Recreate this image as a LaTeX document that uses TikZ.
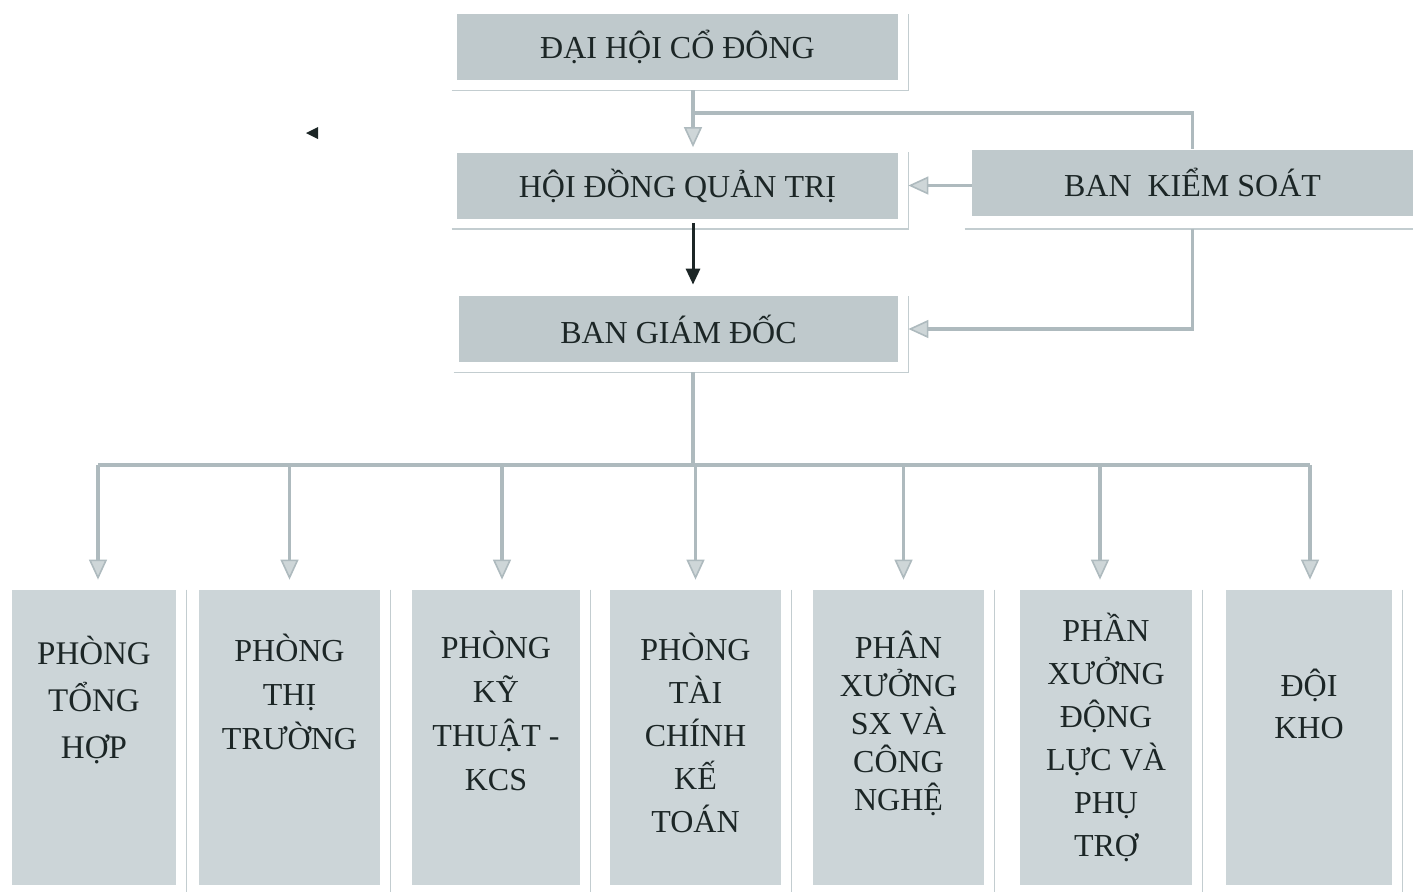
\documentclass[tikz,border=0pt]{standalone}
\usepackage{fontspec}
\setmainfont{Liberation Serif}
\usetikzlibrary{arrows.meta}
\definecolor{topfill}{HTML}{BFC9CC}
\definecolor{depfill}{HTML}{CCD5D8}
\definecolor{linegrey}{HTML}{AEBABE}
\definecolor{shadowgrey}{HTML}{C3CDD0}
\definecolor{inkdark}{HTML}{1C2626}
\tikzset{
  topbox/.style={fill=topfill, minimum width=220.5pt, minimum height=33pt, inner sep=0pt,
    text=inkdark, font=\fontsize{16}{19}\selectfont},
  depbox/.style={fill=depfill, minimum height=147.5pt, inner sep=0pt},
  deptext/.style={anchor=base, align=center, inner sep=0pt, text=inkdark,
    font=\fontsize{16}{22}\selectfont},
  conn/.style={draw=linegrey, line width=1.8pt},
  greytip/.style={-{Triangle[width=9pt,length=10pt,fill=linegrey!60,color=linegrey,line width=0.8pt]}},
  blackarrow/.style={draw=inkdark, line width=1.5pt, -{Triangle[width=7pt,length=8pt]}},
  shadowline/.style={draw=shadowgrey, line width=0.8pt}
}
\begin{document}
\begin{tikzpicture}[x=0.5pt,y=-0.5pt]
\useasboundingbox (0,0) rectangle (1413,891);

% upper boxes
\node[topbox] (dhcd) at (677.5,47) {ĐẠI HỘI CỔ ĐÔNG};
\node[topbox] (hdqt) at (677.5,185.5) {HỘI ĐỒNG QUẢN TRỊ};
\node[topbox] (bks) at (1192.5,182.5) {BAN\ \ KIỂM SOÁT};
\node[topbox, minimum width=219.5pt] (bgd) at (678.5,329) {BAN GIÁM ĐỐC};
\foreach \b in {dhcd,hdqt,bgd}
  \draw[shadowline] ([xshift=-2.5pt,yshift=-5pt]\b.south west) -| ([xshift=5pt]\b.north east);
\draw[shadowline] ([xshift=-3.5pt,yshift=-6.5pt]bks.south west) -- ([yshift=-6.5pt]bks.south east);

% lower boxes
\node[depbox, minimum width=82pt] (p1) at (94,737.5) {};
\node[depbox, minimum width=90.5pt] (p2) at (289.5,737.5) {};
\node[depbox, minimum width=84pt] (p3) at (496,737.5) {};
\node[depbox, minimum width=85.5pt] (p4) at (695.5,737.5) {};
\node[depbox, minimum width=85.5pt] (p5) at (898.5,737.5) {};
\node[depbox, minimum width=86pt] (p6) at (1106,737.5) {};
\node[depbox, minimum width=83pt] (p7) at (1309,737.5) {};
\foreach \d in {p1,p2,p3,p4,p5,p6,p7}
  \draw[shadowline] ([xshift=5pt]\d.north east) -- ([xshift=5pt,yshift=-5pt]\d.south east);

% texts, placed by the baseline of their last line
\node[deptext, font=\fontsize{16.5}{23.5}\selectfont] (p1t) at (p1 |- 0,758) {PHÒNG\\TỔNG\\HỢP};
\node[deptext] (p2t) at (p2 |- 0,749) {PHÒNG\\THỊ\\TRƯỜNG};
\node[deptext] (p3t) at (p3 |- 0,790) {PHÒNG\\KỸ\\THUẬT -\\KCS};
\node[deptext, font=\fontsize{16}{21.5}\selectfont] (p4t) at (p4 |- 0,832) {PHÒNG\\TÀI\\CHÍNH\\KẾ\\TOÁN};
\node[deptext, font=\fontsize{16}{19}\selectfont] (p5t) at (p5 |- 0,810) {PHÂN\\XƯỞNG\\SX VÀ\\CÔNG\\NGHỆ};
\node[deptext, font=\fontsize{16}{21.5}\selectfont] (p6t) at (p6 |- 0,856) {PHẦN\\XƯỞNG\\ĐỘNG\\LỰC VÀ\\PHỤ\\TRỢ};
\node[deptext, font=\fontsize{16}{21}\selectfont] (p7t) at (p7 |- 0,738) {ĐỘI\\KHO};

% connectors
\coordinate (j1) at (693,113);
\coordinate (j2) at (693,465);
\draw[conn, greytip] ([yshift=-5pt]j1 |- dhcd.south) -- ([yshift=2.5pt]j1 |- hdqt.north);
\draw[conn] (j1) -| (bks.north);
\draw[conn, greytip] (bks.west |- hdqt.east) -- ([xshift=5pt]hdqt.east);
\draw[conn, greytip] ([yshift=-6.5pt]bks.south) |- ([xshift=5pt]bgd.east);
\draw[blackarrow] ([yshift=-2pt]j1 |- hdqt.south) -- ([yshift=5.5pt]j1 |- bgd.north);
\draw[conn] ([yshift=-5pt]j1 |- bgd.south) -- (j2);
\draw[conn] ([xshift=2pt]j2 -| p1.north) -- ([xshift=0.5pt]j2 -| p7.north);
\foreach \d/\s in {p1/2pt,p2/0pt,p3/3pt,p4/0pt,p5/2.5pt,p6/-3pt,p7/0.5pt}
  \draw[conn, greytip] ([xshift=\s]j2 -| \d.north) -- ([xshift=\s,yshift=5pt]\d.north);

% stray mark
\fill[inkdark] (306,133) -- (318,127) -- (318,139) -- cycle;
\end{tikzpicture}
\end{document}
